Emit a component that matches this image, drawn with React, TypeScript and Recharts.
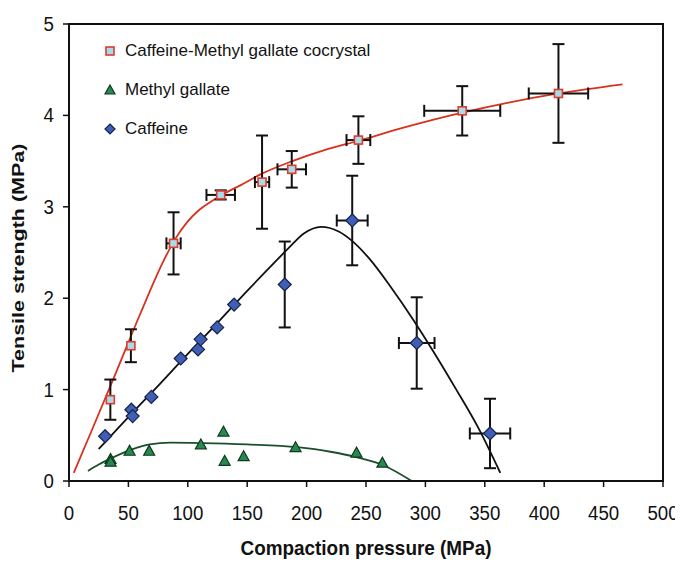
import React from 'react';
import {
  ComposedChart,
  Line,
  Scatter,
  XAxis,
  YAxis,
  ErrorBar,
  ReferenceArea,
  Legend,
  Label,
} from 'recharts';

// ---------- data ----------
const xTicks = [0, 50, 100, 150, 200, 250, 300, 350, 400, 450, 500];
const yTicks = [0, 1, 2, 3, 4, 5];

const seriesNames = ['Caffeine-Methyl gallate cocrystal', 'Methyl gallate', 'Caffeine'];

// Caffeine-Methyl gallate cocrystal (squares)
const cocrystalX = [34.8, 52.1, 88, 127.7, 162.5, 187.5, 243.6, 331, 412];
const cocrystalY = [0.89, 1.48, 2.6, 3.13, 3.27, 3.41, 3.73, 4.05, 4.24];
const cocrystalErrY = [0.22, 0.18, 0.34, 0.05, 0.51, 0.2, 0.26, 0.27, 0.54];
const cocrystalErrX = [null, null, 6, 12, 6, 12, 10, 32, 25];

// Caffeine (diamonds)
const caffeineX = [30.4, 52.5, 53.6, 69.3, 94, 108.6, 110.8, 124.7, 139, 181.6, 238.4, 292.7, 354.4];
const caffeineY = [0.49, 0.78, 0.71, 0.92, 1.34, 1.44, 1.55, 1.68, 1.93, 2.15, 2.85, 1.51, 0.52];
const caffeineErrY = [null, null, null, null, null, null, null, null, null, 0.47, 0.49, 0.5, 0.38];
const caffeineErrX = [null, null, null, null, null, null, null, null, null, null, 13, 15, 17];

// Methyl gallate (triangles)
const gallateX = [35, 35, 51, 67.5, 111, 130, 131, 147, 190.7, 242, 263.8];
const gallateY = [0.24, 0.21, 0.33, 0.33, 0.4, 0.54, 0.22, 0.27, 0.37, 0.31, 0.2];

// fitted curves
const cocrystalFitX = [4, 20, 40, 60, 80, 90, 100, 110, 120, 130, 145, 162, 188, 215, 243, 280, 331, 370, 412, 466];
const cocrystalFitY = [0.09, 0.58, 1.2, 1.83, 2.42, 2.66, 2.84, 2.97, 3.06, 3.14, 3.24, 3.36, 3.5, 3.62, 3.72, 3.86, 4.03, 4.14, 4.24, 4.34];

const caffeineFitX = [25, 50, 75, 100, 125, 150, 170, 185, 198, 212, 227, 238, 253, 271, 290, 308, 326, 345, 363];
const caffeineFitY = [0.35, 0.7, 1.04, 1.39, 1.73, 2.08, 2.35, 2.55, 2.71, 2.78, 2.73, 2.63, 2.43, 2.12, 1.76, 1.39, 1.0, 0.57, 0.09];

const gallateFitX = [16, 25, 35, 52, 68, 85, 112, 150, 192, 220, 242, 265, 288.5];
const gallateFitY = [0.11, 0.18, 0.245, 0.34, 0.4, 0.42, 0.415, 0.4, 0.37, 0.32, 0.26, 0.17, 0.0];

// ---------- built tables ----------
const cocrystalData = cocrystalX.map((x, i) => ({ x, y: cocrystalY[i], ex: cocrystalErrX[i], ey: cocrystalErrY[i] }));
const caffeineData = caffeineX.map((x, i) => ({ x, y: caffeineY[i], ex: caffeineErrX[i], ey: caffeineErrY[i] }));
const gallateData = gallateX.map((x, i) => ({ x, y: gallateY[i] }));
const cocrystalFit = cocrystalFitX.map((x, i) => ({ x, y: cocrystalFitY[i] }));
const caffeineFit = caffeineFitX.map((x, i) => ({ x, y: caffeineFitY[i] }));
const gallateFit = gallateFitX.map((x, i) => ({ x, y: gallateFitY[i] }));

// ---------- styles ----------
const FONT = "'Liberation Sans', Arial, Helvetica, sans-serif";
const SQ_FILL = '#a9dbea';
const SQ_STROKE = '#de3b2b';
const TRI_FILL = '#27894f';
const TRI_STROKE = '#0d3a1e';
const DIA_FILL = '#3f5fb4';
const DIA_STROKE = '#16224d';

const W = 675;
const H = 554;
const M = { top: 16, right: 20, bottom: 21, left: 0 };
const YAXIS_W = 61;
const XAXIS_H = 60;

const SquareShape = (p: any) => {
  const s = 8;
  return <rect x={p.cx - s / 2} y={p.cy - s / 2} width={s} height={s} fill={SQ_FILL} stroke={SQ_STROKE} strokeWidth={1.6} />;
};
const TriangleShape = (p: any) => {
  const r = 5.5;
  return (
    <polygon
      points={`${p.cx},${p.cy - r} ${p.cx + r},${p.cy + r * 0.8} ${p.cx - r},${p.cy + r * 0.8}`}
      fill={TRI_FILL}
      stroke={TRI_STROKE}
      strokeWidth={1.2}
    />
  );
};
const DiamondShape = (p: any) => {
  const r = 6.5;
  return (
    <polygon
      points={`${p.cx},${p.cy - r} ${p.cx + r},${p.cy} ${p.cx},${p.cy + r} ${p.cx - r},${p.cy}`}
      fill={DIA_FILL}
      stroke={DIA_STROKE}
      strokeWidth={1.2}
    />
  );
};

const XTick = (p: any) => (
  <text
    x={0}
    y={0}
    transform={`translate(${p.x},${p.y + 15}) scale(0.89,1)`}
    textAnchor="middle"
    fontFamily={FONT}
    fontSize={21}
    fill="#111"
  >
    {p.payload.value}
  </text>
);

const YTick = (p: any) => (
  <text
    x={0}
    y={0}
    transform={`translate(${p.x},${p.y + 7}) scale(0.89,1)`}
    textAnchor="end"
    fontFamily={FONT}
    fontSize={21}
    fill="#111"
  >
    {p.payload.value}
  </text>
);

const legendIcon = (i: number) => {
  if (i === 0) return <rect x={3} y={3} width={8} height={8} fill={SQ_FILL} stroke={SQ_STROKE} strokeWidth={1.6} />;
  if (i === 1) return <polygon points="7,2 12,11 2,11" fill={TRI_FILL} stroke={TRI_STROKE} strokeWidth={1.2} />;
  return <polygon points="7,2 12,7 7,12 2,7" fill={DIA_FILL} stroke={DIA_STROKE} strokeWidth={1.2} />;
};

const LegendContent = () => (
  <div style={{ fontFamily: FONT, fontSize: 17, color: '#111' }}>
    {seriesNames.map((name, i) => (
      <div key={name} style={{ display: 'flex', alignItems: 'center', height: 39, whiteSpace: 'nowrap' }}>
        <svg width={14} height={14} style={{ marginRight: 8 }}>
          {legendIcon(i)}
        </svg>
        <span>{name}</span>
      </div>
    ))}
  </div>
);

const plotLeft = M.left + YAXIS_W;
const plotRight = W - M.right;

const XTitle = () => (
  <text
    x={(plotLeft + plotRight) / 2}
    y={547}
    textAnchor="middle"
    fontFamily={FONT}
    fontWeight="bold"
    fontSize={21}
    fill="#111"
    textLength={251}
    lengthAdjust="spacingAndGlyphs"
  >
    Compaction pressure (MPa)
  </text>
);

const YTitle = () => {
  const cx = 16;
  const cy = 250;
  return (
    <text
      x={cx}
      y={cy}
      transform={`rotate(-90 ${cx} ${cy})`}
      textAnchor="middle"
      fontFamily={FONT}
      fontWeight="bold"
      fontSize={17}
      fill="#111"
      textLength={229}
      lengthAdjust="spacingAndGlyphs"
    >
      Tensile strength (MPa)
    </text>
  );
};

export default function App() {
  return (
    <div style={{ width: W, height: H }}>
      <ComposedChart width={W} height={H} margin={M}>
        <XAxis
          type="number"
          dataKey="x"
          domain={[0, 500]}
          ticks={xTicks}
          allowDataOverflow
          interval={0}
          height={XAXIS_H}
          tickSize={6}
          tickMargin={18}
          axisLine={{ stroke: '#111', strokeWidth: 2 }}
          tickLine={{ stroke: '#111', strokeWidth: 1.5 }}
          tick={<XTick />}
        >
          <Label content={() => <XTitle />} />
        </XAxis>
        <YAxis
          type="number"
          dataKey="y"
          domain={[0, 5]}
          ticks={yTicks}
          allowDataOverflow
          interval={0}
          width={YAXIS_W}
          tickSize={6}
          tickMargin={9}
          axisLine={{ stroke: '#111', strokeWidth: 2 }}
          tickLine={{ stroke: '#111', strokeWidth: 1.5 }}
          tick={<YTick />}
        >
          <Label content={() => <YTitle />} />
        </YAxis>
        <ReferenceArea x1={0} x2={500} y1={0} y2={5} fill="none" stroke="#111" strokeWidth={2} />
        <Line data={gallateFit} dataKey="y" type="monotone" stroke="#1b4f2c" strokeWidth={1.8} dot={false} activeDot={false} isAnimationActive={false} legendType="none" />
        <Line data={caffeineFit} dataKey="y" type="monotone" stroke="#111" strokeWidth={1.8} dot={false} activeDot={false} isAnimationActive={false} legendType="none" />
        <Line data={cocrystalFit} dataKey="y" type="monotone" stroke="#d8321e" strokeWidth={1.8} dot={false} activeDot={false} isAnimationActive={false} legendType="none" />
        <Scatter name={seriesNames[1]} data={gallateData} dataKey="y" shape={TriangleShape} isAnimationActive={false} />
        <Scatter name={seriesNames[2]} data={caffeineData} dataKey="y" shape={DiamondShape} isAnimationActive={false}>
          <ErrorBar dataKey="ey" direction="y" width={6} stroke="#111" strokeWidth={2} isAnimationActive={false} />
          <ErrorBar dataKey="ex" direction="x" width={6} stroke="#111" strokeWidth={2} isAnimationActive={false} />
        </Scatter>
        <Scatter name={seriesNames[0]} data={cocrystalData} dataKey="y" shape={SquareShape} isAnimationActive={false}>
          <ErrorBar dataKey="ey" direction="y" width={6} stroke="#111" strokeWidth={2} isAnimationActive={false} />
          <ErrorBar dataKey="ex" direction="x" width={6} stroke="#111" strokeWidth={2} isAnimationActive={false} />
        </Scatter>
        <Legend
          layout="vertical"
          align="center"
          verticalAlign="middle"
          wrapperStyle={{ left: 95, top: 23, width: 'auto', height: 'auto' }}
          content={() => <LegendContent />}
        />
      </ComposedChart>
    </div>
  );
}
